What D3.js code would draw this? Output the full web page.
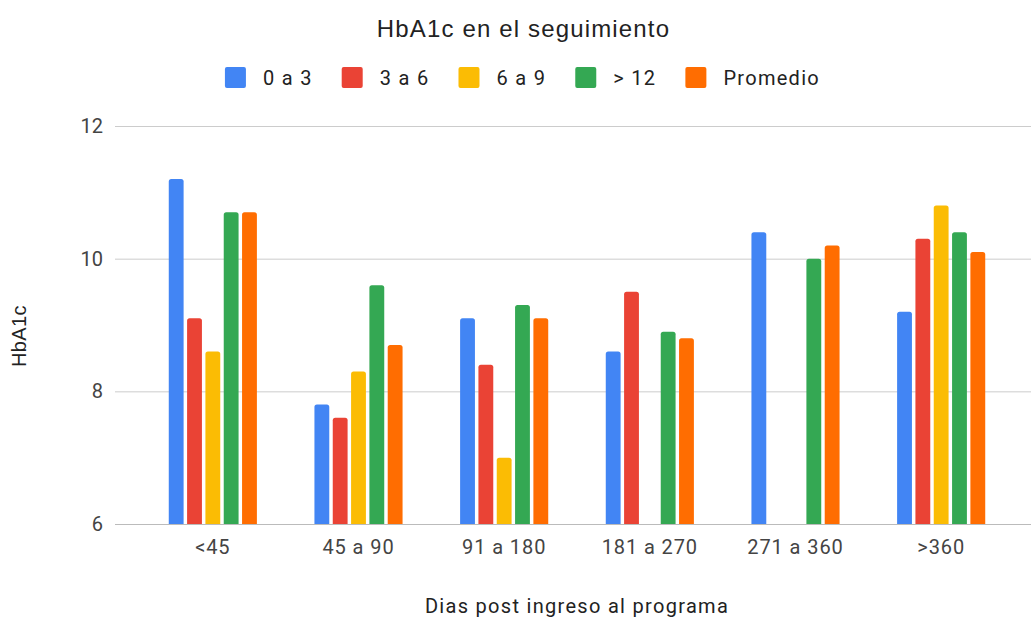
<!DOCTYPE html>
<html><head><meta charset="utf-8">
<script src="https://cdn.jsdelivr.net/npm/d3@7"></script>
<style>
body{margin:0;background:#fff;}
svg{display:block;}
</style></head>
<body>
<svg id="c" width="1031" height="618"></svg>
<script>
const categories = ["<45","45 a 90","91 a 180","181 a 270","271 a 360",">360"];
const seriesNames = ["0 a 3","3 a 6","6 a 9","> 12","Promedio"];
const s0a3 = [11.2, 7.8, 9.1, 8.6, 10.4, 9.2];
const s3a6 = [9.1, 7.6, 8.4, 9.5, null, 10.3];
const s6a9 = [8.6, 8.3, 7.0, null, null, 10.8];
const sMas12 = [10.7, 9.6, 9.3, 8.9, 10.0, 10.4];
const sPromedio = [10.7, 8.7, 9.1, 8.8, 10.2, 10.1];
const yTicks = [6, 8, 10, 12];
const colors = ["#4285F4","#EA4335","#FBBC04","#34A853","#FF6D01"];
const seriesValues = [s0a3, s3a6, s6a9, sMas12, sPromedio];

const svg = d3.select("#c");
const y = d3.scaleLinear().domain([6,12]).range([524,126]);
const x0 = d3.scaleBand().domain(categories).range([140,1014]).paddingInner(0.395).paddingOuter(0.1975);
const x1 = d3.scaleBand().domain(seriesNames).range([0, x0.bandwidth()]).paddingInner(0.19).paddingOuter(0);

// gridlines
const yAxis = d3.axisLeft(y).tickValues(yTicks).tickSize(-(1031-115)).tickFormat(d3.format("d"));
const gy = svg.append("g").attr("transform","translate(115,0)").call(yAxis);
gy.select(".domain").remove();
gy.selectAll(".tick line").attr("stroke","#cccccc").attr("stroke-width",1);
gy.selectAll(".tick text").attr("x",-12).attr("fill","#444").style("font-family","Roboto").style("font-size","20px");
gy.selectAll(".tick").filter(d=>d===6).select("line").attr("stroke","#bbbbbb");

// bars
function barPath(x, yTop, w, yBase, r){
  return `M${x},${yBase}V${yTop+r}Q${x},${yTop} ${x+r},${yTop}H${x+w-r}Q${x+w},${yTop} ${x+w},${yTop+r}V${yBase}Z`;
}
const groups = svg.append("g").selectAll("g").data(categories).join("g")
  .attr("transform", d=>`translate(${x0(d)},0)`);
groups.selectAll("path").data((d,i)=>seriesNames.map((s,j)=>({s, j, v: seriesValues[j][i]})).filter(o=>o.v!=null))
  .join("path")
  .attr("d", o=>barPath(x1(o.s), y(o.v), x1.bandwidth(), y(6), 2.5))
  .attr("fill", o=>colors[o.j]);

// x axis labels
const xAxis = d3.axisBottom(x0).tickSize(0).tickPadding(0);
const gx = svg.append("g").attr("transform","translate(0,524)").call(xAxis);
gx.select(".domain").remove();
gx.selectAll(".tick text").attr("y",30).attr("dy",0).attr("fill","#444")
  .style("font-family","Roboto").style("font-size","20px").style("letter-spacing","0.9px");

// title
svg.append("text").attr("x",523.5).attr("y",37).attr("text-anchor","middle")
  .style("font-family","Liberation Sans, Arial").style("font-size","24px").style("letter-spacing","1.15px").attr("fill","#222")
  .text("HbA1c en el seguimiento");

// axis titles
svg.append("text").attr("x",577).attr("y",613).attr("text-anchor","middle")
  .style("font-family","Roboto").style("font-size","20px").style("letter-spacing","1.3px").attr("fill","#222")
  .text("Dias post ingreso al programa");
svg.append("text").attr("transform","translate(26,336) rotate(-90)").attr("text-anchor","middle")
  .style("font-family","Liberation Sans, Arial").style("font-size","20px").style("letter-spacing","0.4px").attr("fill","#222")
  .text("HbA1c");

// legend
const leg = svg.append("g");
const items = leg.selectAll("g").data(seriesNames).join("g");
items.append("rect").attr("width",21).attr("height",21).attr("rx",2).attr("y",-18)
  .attr("fill",(d,i)=>colors[i]);
items.append("text").attr("x",38).attr("y",0).attr("fill","#222")
  .style("font-family","Roboto").style("font-size","20px").style("letter-spacing","1.3px")
  .text(d=>d);
let xpos = 0;
items.each(function(){
  const g = d3.select(this);
  g.attr("transform",`translate(${xpos},0)`);
  const w = g.select("text").node().getComputedTextLength();
  xpos += 38 + w + 29;
});
const total = xpos - 29;
leg.attr("transform",`translate(${522.5 - total/2},85)`);
</script>
</body></html>
